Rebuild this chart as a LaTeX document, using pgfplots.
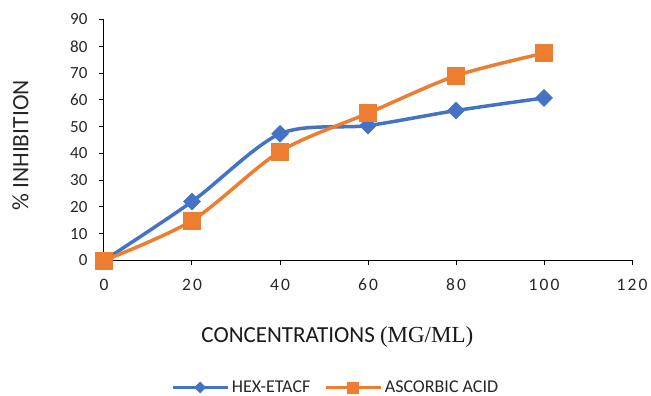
\documentclass[border=0pt]{standalone}
\usepackage{fontspec}
\setmainfont{Carlito}
\newfontfamily\serifpart{Liberation Serif}
\newfontfamily\spacedfont[LetterSpace=12]{Carlito}
\usepackage{pgfplots}
\usepackage{pgfplotstable}
\pgfplotsset{compat=1.18}

\definecolor{serblue}{HTML}{4472C4}
\definecolor{serorange}{HTML}{ED7D31}

% % inhibition against concentration (mg/mL)
\pgfplotstableread{
conc inh
0    0
20   22
40   47.3
60   50.4
80   56
100  60.7
}\hexdata

\pgfplotstableread{
conc inh
0    0
20   14.9
40   40.7
60   55
80   69
100  77.4
}\ascdata

\begin{document}
\begin{tikzpicture}[x=1pt,y=1pt]
\useasboundingbox (0,0) rectangle (651,396);
\begin{axis}[
  at={(104pt,135.5pt)}, anchor=south west,
  scale only axis, width=528pt, height=241pt,
  xmin=0, xmax=120, ymin=0, ymax=90,
  clip=false,
  axis lines=left,
  axis line style={-, black, line width=1pt},
  xtick={0,20,...,120}, ytick={0,10,...,90},
  xticklabels={0,20,40,60,80,100,120},
  tick align=outside, major tick length=5pt,
  tick style={black, line width=1pt},
  /pgf/number format/assume math mode=true,
  xticklabel style={font=\fontsize{17.5}{19}\spacedfont, text=black!85,
                    anchor=center, yshift=-19pt},
  yticklabel style={font=\fontsize{17}{19}\selectfont, text=black!85,
                    anchor=east, xshift=-8pt},
  ylabel={\% INHIBITION},
  ylabel style={at={(axis description cs:-0.158,0.477)}, anchor=center,
                font=\fontsize{23.5}{26}\selectfont, text=black!85},
  xlabel={CONCENTRATIONS {\serifpart (MG/ML)}},
  xlabel style={at={(axis description cs:0.442,-0.342)}, anchor=base,
                font=\fontsize{23}{26}\selectfont, text=black!90},
  legend columns=2,
  legend style={at={(axis description cs:0.439,-0.527)}, anchor=center,
                draw=none, fill=none, inner sep=0pt,
                nodes={inner ysep=0pt},
                font=\fontsize{18}{20}\selectfont, text=black!85,
                /tikz/every even column/.append style={column sep=12pt}},
  legend image code/.code={
    \draw[mark repeat=2, mark phase=2, every mark/.append style={scale=0.65}]
      plot coordinates {(0pt,0pt) (27pt,0pt) (55pt,0pt)};
  },
]
\addplot[serblue, line width=3.5pt, smooth, mark=square*, mark size=6pt,
  mark options={rotate=45, fill=serblue, draw=serblue, line width=0.5pt}]
  table[x=conc, y=inh] {\hexdata};
\addlegendentry{HEX-ETACF}
\addplot[serorange, line width=3.5pt, smooth, mark=square*, mark size=8.5pt,
  mark options={fill=serorange, draw=serorange, line width=0.5pt}]
  table[x=conc, y=inh] {\ascdata};
\addlegendentry{ASCORBIC ACID}
\end{axis}
\end{tikzpicture}
\end{document}
